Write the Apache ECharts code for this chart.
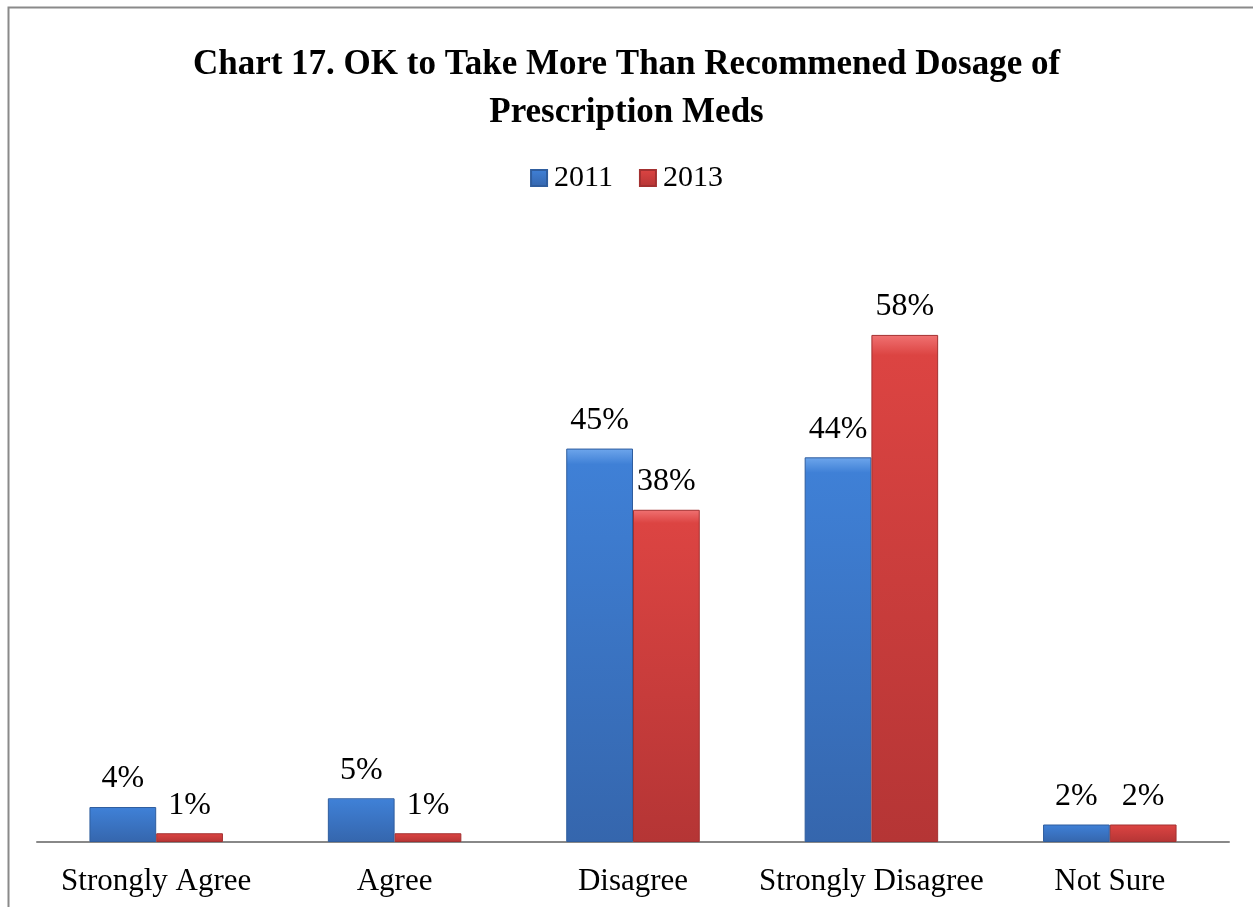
<!DOCTYPE html>
<html>
<head>
<meta charset="utf-8">
<script src="https://cdn.jsdelivr.net/npm/echarts@6/dist/echarts.min.js"></script>
<style>
html,body{margin:0;padding:0;background:#fff;}
#chart{width:1253px;height:907px;}
</style>
</head>
<body>
<div id="chart"></div>
<script>
const categories = ['Strongly Agree', 'Agree', 'Disagree', 'Strongly Disagree', 'Not Sure'];
const values2011 = [4, 5, 45, 44, 2];
const values2013 = [1, 1, 38, 58, 2];
const seriesNames = ['2011', '2013'];
const titleLines = ['Chart 17. OK to Take More Than Recommened Dosage of', 'Prescription Meds'];

const FONT = '"Liberation Serif", "Times New Roman", serif';

function grad(top, mid, bottom) {
  return new echarts.graphic.LinearGradient(0, 0, 0, 1, [
    { offset: 0, color: top },
    { offset: 0.04, color: mid },
    { offset: 1, color: bottom }
  ]);
}
const blueFill = grad('#6ea6ec', '#3f80d6', '#3566ad');
const redFill = grad('#f07272', '#dc4442', '#b53535');

const chart = echarts.init(document.getElementById('chart'));
chart.setOption({
  animation: false,
  backgroundColor: '#fff',
  graphic: [{
    type: 'rect',
    left: 6, top: 5,
    shape: { width: 1300, height: 1000 },
    style: { fill: 'none', stroke: '#8a8a8a', lineWidth: 2 },
    silent: true
  }],
  title: {
    text: titleLines.join('\n'),
    left: 'center',
    top: 36,
    textStyle: {
      fontFamily: FONT, fontWeight: 'bold', fontSize: 35, lineHeight: 48, color: '#000'
    }
  },
  legend: {
    data: seriesNames,
    top: 158,
    left: 'center',
    icon: 'rect',
    itemWidth: 16,
    itemHeight: 16,
    itemGap: 26,
    textStyle: { fontFamily: FONT, fontSize: 30, color: '#000', padding: [0, 0, 0, 2] }
  },
  grid: { left: 37, right: 24, top: 230, bottom: 65 },
  xAxis: {
    type: 'category',
    data: categories,
    axisTick: { show: false },
    axisLine: { lineStyle: { color: '#888', width: 2 } },
    axisLabel: { interval: 0, fontFamily: FONT, fontSize: 31, color: '#000', margin: 24 }
  },
  yAxis: {
    type: 'value', min: 0, max: 70, interval: 10, show: false,
    splitLine: { show: false }
  },
  series: [
    {
      name: seriesNames[0], type: 'bar', data: values2011,
      barGap: '0%', barCategoryGap: '44%',
      itemStyle: { color: blueFill, borderColor: '#2f5d9e', borderWidth: 1 },
      label: { show: true, position: 'top', distance: 12, formatter: '{c}%',
        fontFamily: FONT, fontSize: 32, color: '#000' }
    },
    {
      name: seriesNames[1], type: 'bar', data: values2013,
      itemStyle: { color: redFill, borderColor: '#a33030', borderWidth: 1 },
      label: { show: true, position: 'top', distance: 12, formatter: '{c}%',
        fontFamily: FONT, fontSize: 32, color: '#000' }
    }
  ]
});
</script>
</body>
</html>
